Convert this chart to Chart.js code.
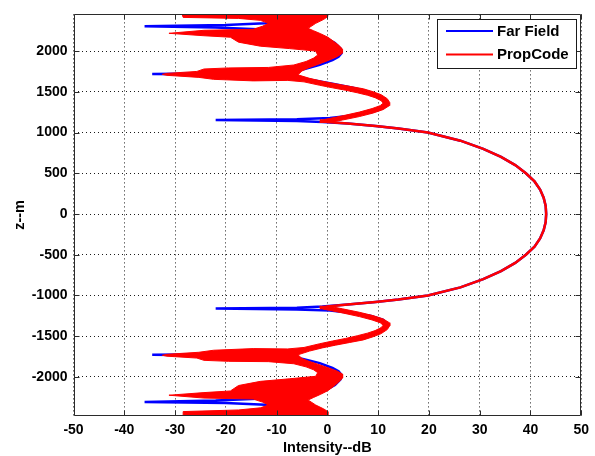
<!DOCTYPE html>
<html>
<head>
<meta charset="utf-8">
<title>Intensity vs z</title>
<style>
  html, body { margin: 0; padding: 0; background: #fff; }
  #wrap { width: 595px; height: 456px; }
</style>
<script src="https://cdn.jsdelivr.net/npm/chart.js@4.4.1/dist/chart.umd.min.js"></script>
</head>
<body>
<div id="wrap"><canvas id="chart" width="595" height="456"></canvas></div>
<script>
// ── Axes ──────────────────────────────────────────────────
const xTicks = [-50, -40, -30, -20, -10, 0, 10, 20, 30, 40, 50];
const zTicks = [-2000, -1500, -1000, -500, 0, 500, 1000, 1500, 2000];
const zMin = -2473;
const zMax = 2450;

// ── Far field pattern (z in m, intensity in dB) ──────────
const farFieldZ = [
  -2473, -2450, -2410, -2370, -2340, -2320, -2308, -2290, -2270, -2250, -2210, -2160,
  -2100, -2030, -1975, -1930, -1890, -1830, -1775, -1750, -1736, -1728, -1720, -1708,
  -1688, -1645, -1600, -1550, -1500, -1460, -1415, -1360, -1300, -1250, -1215, -1185,
  -1171, -1161, -1150, -1136, -1110, -1080, -1050, -1000, -900, -800, -700, -600,
  -500, -400, -300, -200, -100, 0, 100, 200, 300, 400, 500, 600,
  700, 800, 900, 1000, 1050, 1080, 1110, 1130, 1143, 1153, 1163, 1178,
  1210, 1250, 1300, 1360, 1415, 1460, 1500, 1550, 1600, 1640, 1680, 1700,
  1712, 1720, 1728, 1745, 1770, 1830, 1890, 1930, 1975, 2030, 2100, 2160,
  2210, 2250, 2270, 2290, 2305, 2320, 2340, 2370, 2410, 2450
];
const farFieldDb = [
  -1.5, -1, -3.5, -7, -12.2, -20, -36, -22, -15, -6.5, -2.5, -0.3,
  1.5, 2.6, 2.8, 2.2, 1.0, -1.5, -5, -9.5, -20, -34.5, -20, -11,
  -6.5, -2.5, 1.0, 5.0, 8.0, 9.8, 11.2, 12.0, 11.0, 8.6, 5.0, 0.5,
  -6, -22, -6, -1, 4, 9.5, 14, 19.8, 26.2, 30.7, 34.2, 37.0,
  39.1, 40.8, 41.9, 42.6, 43.0, 43.1, 43.0, 42.6, 41.9, 40.8, 39.1, 37.0,
  34.2, 30.7, 26.2, 19.8, 14, 9.5, 4, -1, -6, -22, -6, 0.5,
  5.0, 8.6, 11.0, 12.0, 11.2, 9.8, 8.0, 5.0, 1.0, -2.5, -6.5, -11,
  -20, -34.5, -20, -9.5, -5, -1.5, 1.0, 2.2, 2.8, 2.6, 1.5, -0.3,
  -2.5, -6.5, -15, -22, -36, -20, -12.2, -7, -3.5, -1
];

// ── PropCode: main beam ───────────────────────────────────
const propMainZ = [
  -1158, -1136, -1110, -1080, -1050, -1000, -900, -800, -700, -600, -500, -400,
  -300, -200, -100, 0, 100, 200, 300, 400, 500, 600, 700, 800,
  900, 1000, 1050, 1080, 1110, 1130, 1150
];
const propMainDb = [
  -1.5, 0, 4, 9.5, 14, 19.8, 26.2, 30.7, 34.2, 37.0, 39.1, 40.8,
  41.9, 42.6, 43.0, 43.1, 43.0, 42.6, 41.9, 40.8, 39.1, 37.0, 34.2, 30.7,
  26.2, 19.8, 14, 9.5, 4, 0, -1.5
];

// ── PropCode: sidelobe ripple, outline of the spread [dB, z] ──
const propSpreadNorth = [
  [-1.5, 1124], [0.4, 1124], [3.0, 1154], [6.3, 1196], [9.0, 1239], [11.0, 1282],
  [12.2, 1330], [12.3, 1367], [11.8, 1415], [10.6, 1464], [9.0, 1501], [7.1, 1537],
  [4.4, 1567], [1.6, 1598], [-0.9, 1628], [-3.5, 1665], [-5.8, 1708], [-5.0, 1756],
  [-3.8, 1792], [-1.9, 1835], [0.4, 1890], [2.0, 1933], [3.0, 1975], [3.0, 2024],
  [2.2, 2073], [1.2, 2121], [0.1, 2170], [-1.3, 2212], [-2.7, 2249], [-3.8, 2279],
  [-2.3, 2340], [-0.7, 2389], [0.1, 2425], [0.1, 2450], [-28.6, 2450], [-28.4, 2413],
  [-17.5, 2401], [-13.2, 2377], [-11.6, 2340], [-12.8, 2304], [-14.6, 2267], [-24.3, 2255],
  [-31.2, 2218], [-24.3, 2188], [-19.1, 2170], [-17.5, 2109], [-13.2, 2060], [-7.4, 2030],
  [-2.3, 2000], [-1.9, 1951], [-2.7, 1914], [-4.2, 1872], [-6.6, 1829], [-11.6, 1799],
  [-19.5, 1793], [-24.3, 1780], [-25.7, 1750], [-31.6, 1726], [-32.5, 1714], [-31.6, 1702],
  [-25.3, 1677], [-22.4, 1653], [-14.6, 1634], [-7.8, 1640], [-4.6, 1622], [-1.5, 1580],
  [1.0, 1549], [3.6, 1519], [5.9, 1488], [7.9, 1458], [9.4, 1428], [10.6, 1391],
  [11.0, 1361], [10.4, 1330], [8.8, 1294], [6.3, 1251], [3.2, 1208], [0.4, 1172],
  [-1.1, 1154], [-1.5, 1124]
];
const propSpreadSouth = [
  [-1.5, -1132], [0.4, -1132], [3.0, -1164], [6.3, -1206], [9.0, -1247], [11.0, -1288],
  [12.2, -1334], [12.3, -1370], [11.8, -1418], [10.6, -1468], [9.0, -1507], [7.1, -1545],
  [4.4, -1577], [1.6, -1610], [-0.9, -1642], [-3.5, -1682], [-5.8, -1728], [-5.0, -1772],
  [-3.8, -1804], [-1.9, -1843], [0.4, -1892], [2.0, -1930], [3.0, -1965], [3.0, -2012],
  [2.2, -2065], [1.2, -2117], [0.1, -2168], [-1.3, -2212], [-2.7, -2251], [-3.8, -2283],
  [-2.3, -2344], [-0.7, -2393], [0.1, -2425], [0.1, -2473], [-28.4, -2473], [-28.4, -2425],
  [-17.5, -2405], [-13.2, -2379], [-11.6, -2344], [-12.8, -2308], [-14.6, -2271], [-24.3, -2259],
  [-31.2, -2224], [-24.3, -2192], [-19.1, -2172], [-17.5, -2105], [-13.2, -2054], [-7.4, -2022],
  [-2.3, -1992], [-1.9, -1947], [-2.7, -1912], [-4.2, -1876], [-6.6, -1838], [-11.6, -1812],
  [-19.5, -1808], [-24.3, -1796], [-25.7, -1768], [-31.6, -1745], [-32.5, -1734], [-31.6, -1722],
  [-25.3, -1697], [-22.4, -1672], [-14.6, -1652], [-7.8, -1656], [-4.6, -1638], [-1.5, -1592],
  [1.0, -1559], [3.6, -1527], [5.9, -1494], [7.9, -1462], [9.4, -1431], [10.6, -1394],
  [11.0, -1364], [10.4, -1334], [8.8, -1300], [6.3, -1259], [3.2, -1217], [0.4, -1182],
  [-1.1, -1164], [-1.5, -1132]
];

const BLUE = '#0000ff';
const RED = '#ff0000';
const FONT = '"Liberation Sans", Arial, Helvetica, sans-serif';

const toPoints = (zs, dbs) => zs.map((z, i) => ({ x: dbs[i], y: z }));
const pairsToPoints = pairs => pairs.map(([db, z]) => ({ x: db, y: z }));

// ── Frame, inward ticks and legend (MATLAB style) ─────────
const axesFrame = {
  id: 'axesFrame',
  afterDatasetsDraw(chart) {
    const { ctx, chartArea: a, scales: { x, y } } = chart;
    const L = Math.round(a.left) + 0.5, R = Math.round(a.right) - 0.5;
    const T = Math.round(a.top) + 0.5, B = Math.round(a.bottom) - 0.5;
    ctx.save();
    ctx.strokeStyle = '#2b2b2b';
    ctx.lineWidth = 1;
    ctx.beginPath();
    ctx.rect(L, T, R - L, B - T);
    for (const v of xTicks) {
      const px = Math.round(x.getPixelForValue(v)) + 0.5;
      ctx.moveTo(px, B); ctx.lineTo(px, B - 5);
      ctx.moveTo(px, T); ctx.lineTo(px, T + 5);
    }
    for (const v of zTicks) {
      const py = Math.round(y.getPixelForValue(v)) + 0.5;
      ctx.moveTo(L, py); ctx.lineTo(L + 5, py);
      ctx.moveTo(R, py); ctx.lineTo(R - 5, py);
    }
    ctx.stroke();
    ctx.restore();
  },
  afterDraw(chart) {
    const { ctx, chartArea: a } = chart;
    const entries = chart.data.datasets.filter(d => d.inLegend);
    const box = { l: 437.5, t: 19.5, r: Math.round(a.right) - 4.5, b: 68.5 };
    ctx.save();
    ctx.fillStyle = '#fff';
    ctx.fillRect(box.l, box.t, box.r - box.l, box.b - box.t);
    ctx.strokeStyle = '#1a1a1a';
    ctx.lineWidth = 1;
    ctx.strokeRect(box.l, box.t, box.r - box.l, box.b - box.t);
    ctx.font = 'bold 15px ' + FONT;
    ctx.textBaseline = 'middle';
    ctx.fillStyle = '#000';
    entries.forEach((d, i) => {
      const cy = 31 + i * 23.5;
      ctx.strokeStyle = d.borderColor;
      ctx.lineWidth = 2;
      ctx.beginPath();
      ctx.moveTo(446, cy);
      ctx.lineTo(493, cy);
      ctx.stroke();
      ctx.fillText(d.label, 497, cy + 0.5);
    });
    ctx.restore();
  }
};

const tickFont = { family: FONT, size: 14, weight: 'bold' };
const titleFont = { family: FONT, size: 14.5, weight: 'bold' };

new Chart(document.getElementById('chart'), {
  type: 'scatter',
  data: {
    datasets: [
      {
        label: 'Far Field',
        inLegend: true,
        data: toPoints(farFieldZ, farFieldDb),
        showLine: true,
        borderColor: BLUE,
        borderWidth: 2.5,
        pointRadius: 0,
        order: 3,
      },
      {
        label: 'PropCode',
        inLegend: true,
        data: toPoints(propMainZ, propMainDb),
        showLine: true,
        borderColor: RED,
        borderWidth: 2.5,
        pointRadius: 0,
        order: 1,
      },
      {
        label: 'PropCode ripple north',
        data: pairsToPoints(propSpreadNorth),
        showLine: true,
        fill: 'shape',
        backgroundColor: RED,
        borderColor: RED,
        borderWidth: 1,
        pointRadius: 0,
        order: 2,
      },
      {
        label: 'PropCode ripple south',
        data: pairsToPoints(propSpreadSouth),
        showLine: true,
        fill: 'shape',
        backgroundColor: RED,
        borderColor: RED,
        borderWidth: 1,
        pointRadius: 0,
        order: 2,
      },
    ],
  },
  options: {
    responsive: false,
    animation: false,
    events: [],
    layout: { padding: { top: 11, right: 9, left: 0, bottom: 0 } },
    plugins: { legend: { display: false }, tooltip: { enabled: false } },
    scales: {
      x: {
        type: 'linear',
        min: -50,
        max: 50,
        afterBuildTicks: s => { s.ticks = xTicks.map(v => ({ value: v })); },
        afterFit: s => { s.height = 40.5; },
        ticks: { font: tickFont, color: '#000', padding: 6, maxRotation: 0, autoSkip: false, callback: v => String(v) },
        grid: { color: '#1a1a1a', lineWidth: 1, drawTicks: false },
        border: { display: false, dash: [1, 3] },
        title: { display: true, text: 'Intensity--dB', font: titleFont, color: '#000', padding: { top: 0, bottom: -1 } },
      },
      y: {
        type: 'linear',
        min: zMin,
        max: zMax,
        afterBuildTicks: s => { s.ticks = zTicks.map(v => ({ value: v })); },
        afterFit: s => { s.width = 73.5; },
        ticks: { font: tickFont, color: '#000', padding: 6, autoSkip: false, callback: v => String(v) },
        grid: { color: '#1a1a1a', lineWidth: 1, drawTicks: false },
        border: { display: false, dash: [1, 3] },
        title: { display: true, text: 'z--m', font: titleFont, color: '#000', padding: { top: 11, bottom: 0 } },
      },
    },
  },
  plugins: [axesFrame],
});
</script>
</body>
</html>
